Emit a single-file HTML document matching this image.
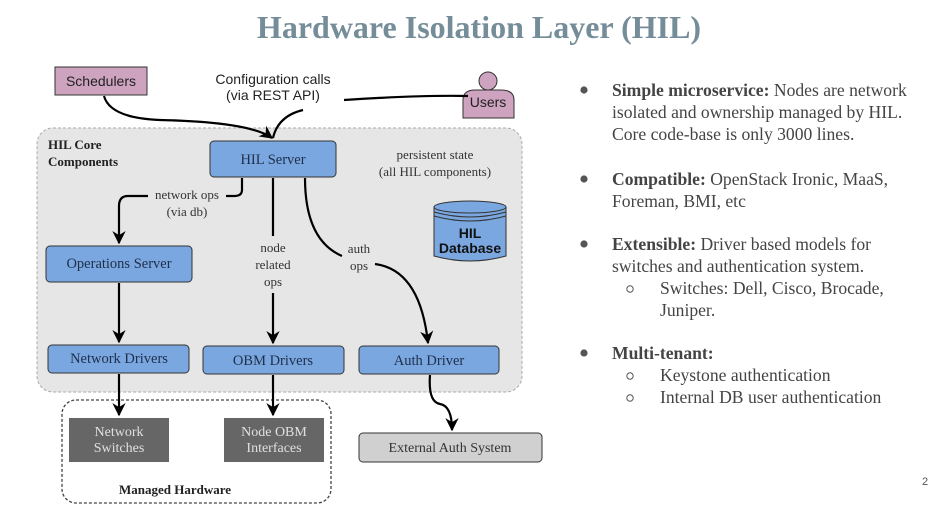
<!DOCTYPE html>
<html><head><meta charset="utf-8"><style>
html,body{margin:0;padding:0;background:#fff;width:928px;height:511px;overflow:hidden}
svg{display:block}
.s{font-family:"Liberation Serif",serif}
.a{font-family:"Liberation Sans",sans-serif}
</style></head><body>
<svg width="928" height="511" viewBox="0 0 928 511" xmlns="http://www.w3.org/2000/svg">
<defs>
<marker id="ar" viewBox="0 0 10 10" refX="9" refY="5" markerWidth="6" markerHeight="6" orient="auto"><path d="M0,0 L10,5 L0,10 L3,5 z" fill="#000"/></marker>
</defs>
<text x="479" y="38" text-anchor="middle" class="s" font-size="32" font-weight="bold" fill="#748d99">Hardware Isolation Layer (HIL)</text>

<rect x="37" y="128" width="485" height="264" rx="16" fill="#e6e6e6" stroke="#aaa" stroke-dasharray="3,2"/>
<rect x="62" y="400" width="269" height="103" rx="14" fill="#fff" stroke="#444" stroke-width="1.3" stroke-dasharray="3,2"/>

<rect x="55" y="67" width="92" height="28" fill="#cda3bf" stroke="#333"/>
<text x="101" y="86" text-anchor="middle" class="a" font-size="14" fill="#222">Schedulers</text>
<text x="273" y="84" text-anchor="middle" class="a" font-size="14" fill="#222">Configuration calls</text>
<text x="273" y="100" text-anchor="middle" class="a" font-size="14" fill="#222">(via REST API)</text>
<circle cx="488" cy="81" r="9" fill="#cda3bf" stroke="#333"/>
<path d="M463,118 L463,100 Q463,90 475,90 L501,90 Q514,90 514,100 L514,118 Z" fill="#cda3bf" stroke="#333"/>
<text x="488" y="107" text-anchor="middle" class="a" font-size="14" fill="#222">Users</text>

<path d="M104,96 Q110,118 160,120 Q250,122 272,138" fill="none" stroke="#000" stroke-width="2.2" marker-end="url(#ar)"/>
<path d="M344,100 Q420,95 468,96" fill="none" stroke="#000" stroke-width="2.2"/>
<path d="M303,110 Q278,116 273,138" fill="none" stroke="#000" stroke-width="2.2"/>

<text x="48" y="149" class="s" font-size="13" font-weight="bold" fill="#222">HIL Core</text>
<text x="48" y="166" class="s" font-size="13" font-weight="bold" fill="#222">Components</text>

<rect x="210" y="141" width="126" height="36" rx="4" fill="#7ba7e0" stroke="#333"/>
<text x="273" y="164" text-anchor="middle" class="s" font-size="14.5" fill="#1e2f4a">HIL Server</text>
<text x="435" y="159" text-anchor="middle" class="s" font-size="13" fill="#333">persistent state</text>
<text x="435" y="176" text-anchor="middle" class="s" font-size="13" fill="#333">(all HIL components)</text>

<path d="M434,207 L434,256 Q470,266 506,256 L506,207" fill="#7ba7e0" stroke="#333"/>
<ellipse cx="470" cy="207" rx="36" ry="6" fill="#7ba7e0" stroke="#333"/>
<path d="M434,212 Q470,222 506,212 M434,216 Q470,226 506,216" fill="none" stroke="#333"/>
<text x="470" y="238" text-anchor="middle" class="a" font-size="14" font-weight="bold" fill="#111">HIL</text>
<text x="470" y="253" text-anchor="middle" class="a" font-size="14" font-weight="bold" fill="#111">Database</text>

<path d="M242,178 L242,190 Q242,196 234,196 L226,196" fill="none" stroke="#000" stroke-width="2.2"/>
<path d="M148,196 L128,196 Q119,196 119,206 L119,243" fill="none" stroke="#000" stroke-width="2.2" marker-end="url(#ar)"/>
<text x="187" y="199" text-anchor="middle" class="s" font-size="13" fill="#333">network ops</text>
<text x="187" y="216" text-anchor="middle" class="s" font-size="13" fill="#333">(via db)</text>

<line x1="273" y1="178" x2="273" y2="236" stroke="#000" stroke-width="2.2"/>
<text x="273" y="252" text-anchor="middle" class="s" font-size="13" fill="#333">node</text>
<text x="273" y="269" text-anchor="middle" class="s" font-size="13" fill="#333">related</text>
<text x="273" y="286" text-anchor="middle" class="s" font-size="13" fill="#333">ops</text>
<line x1="273" y1="293" x2="273" y2="343" stroke="#000" stroke-width="2.2" marker-end="url(#ar)"/>

<path d="M305,178 Q305,240 342,256" fill="none" stroke="#000" stroke-width="2.2"/>
<text x="359" y="253" text-anchor="middle" class="s" font-size="13" fill="#333">auth</text>
<text x="359" y="270" text-anchor="middle" class="s" font-size="13" fill="#333">ops</text>
<path d="M375,264 Q420,270 428,343" fill="none" stroke="#000" stroke-width="2.2" marker-end="url(#ar)"/>

<rect x="46" y="246" width="146" height="36" rx="4" fill="#7ba7e0" stroke="#333"/>
<text x="119" y="268" text-anchor="middle" class="s" font-size="14.5" fill="#1e2f4a">Operations Server</text>
<line x1="119" y1="283" x2="119" y2="342" stroke="#000" stroke-width="2.2" marker-end="url(#ar)"/>

<rect x="48" y="345" width="141" height="28" rx="4" fill="#7ba7e0" stroke="#333"/>
<text x="119" y="363" text-anchor="middle" class="s" font-size="14.5" fill="#1e2f4a">Network Drivers</text>
<rect x="203" y="346" width="141" height="28" rx="4" fill="#7ba7e0" stroke="#333"/>
<text x="273" y="365" text-anchor="middle" class="s" font-size="14.5" fill="#1e2f4a">OBM Drivers</text>
<rect x="359" y="346" width="140" height="28" rx="4" fill="#7ba7e0" stroke="#333"/>
<text x="429" y="365" text-anchor="middle" class="s" font-size="14.5" fill="#1e2f4a">Auth Driver</text>

<line x1="119" y1="374" x2="119" y2="415" stroke="#000" stroke-width="2.2" marker-end="url(#ar)"/>
<line x1="273" y1="375" x2="273" y2="415" stroke="#000" stroke-width="2.2" marker-end="url(#ar)"/>
<path d="M430,375 Q428,402 440,404 Q452,406 452,430" fill="none" stroke="#000" stroke-width="2.2" marker-end="url(#ar)"/>

<rect x="69" y="418" width="100" height="44" fill="#666"/>
<text x="119" y="436" text-anchor="middle" class="s" font-size="14" fill="#e0e0e0">Network</text>
<text x="119" y="452" text-anchor="middle" class="s" font-size="14" fill="#e0e0e0">Switches</text>
<rect x="224" y="418" width="100" height="44" fill="#666"/>
<text x="274" y="436" text-anchor="middle" class="s" font-size="14" fill="#e0e0e0">Node OBM</text>
<text x="274" y="452" text-anchor="middle" class="s" font-size="14" fill="#e0e0e0">Interfaces</text>
<text x="175" y="494" text-anchor="middle" class="s" font-size="13" font-weight="bold" fill="#222">Managed Hardware</text>

<rect x="359" y="433" width="183" height="29" rx="4" fill="#d0d0d0" stroke="#333"/>
<text x="450" y="452" text-anchor="middle" class="s" font-size="14" fill="#333">External Auth System</text>

<g fill="#555">
<circle cx="584" cy="90" r="3.6"/><circle cx="584" cy="179" r="3.6"/>
<circle cx="584" cy="244" r="3.6"/><circle cx="584" cy="353" r="3.6"/>
</g>
<g fill="none" stroke="#555" stroke-width="1">
<circle cx="630" cy="289" r="3.2"/><circle cx="630" cy="376" r="3.2"/><circle cx="630" cy="398" r="3.2"/>
</g>
<g class="s" font-size="17.6" fill="#444">
<text x="612" y="96"><tspan font-weight="bold">Simple microservice:</tspan> Nodes are network</text>
<text x="612" y="118">isolated and ownership managed by HIL.</text>
<text x="612" y="140">Core code-base is only 3000 lines.</text>
<text x="612" y="185"><tspan font-weight="bold">Compatible:</tspan> OpenStack Ironic, MaaS,</text>
<text x="612" y="207">Foreman, BMI, etc</text>
<text x="612" y="250"><tspan font-weight="bold">Extensible:</tspan> Driver based models for</text>
<text x="612" y="272">switches and authentication system.</text>
<text x="660" y="294">Switches: Dell, Cisco, Brocade,</text>
<text x="660" y="316">Juniper.</text>
<text x="612" y="359" font-weight="bold">Multi-tenant:</text>
<text x="660" y="381">Keystone authentication</text>
<text x="660" y="403">Internal DB user authentication</text>
</g>
<text x="922" y="485" class="a" font-size="11" fill="#555">2</text>
</svg>
</body></html>
